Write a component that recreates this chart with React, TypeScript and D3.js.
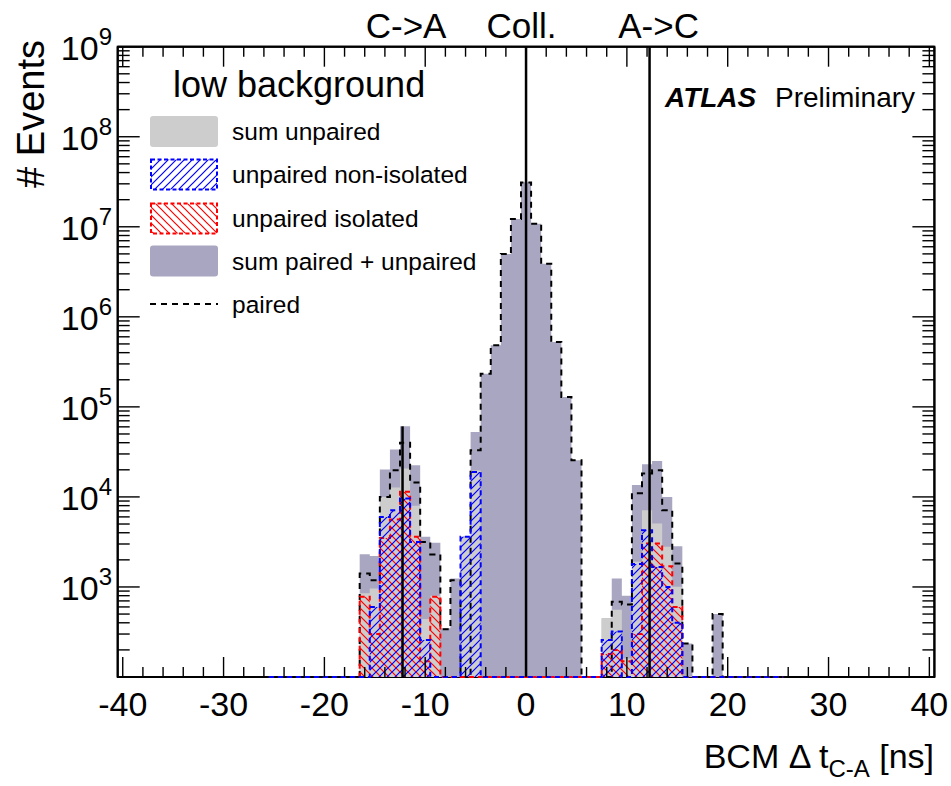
import React from "react";
import * as d3 from "d3";

// ---- data (bins of 1 ns, centred on integer ns) ----
const binCenters = [-16, -15, -14, -13, -12, -11, -10, -9, -8, -7, -6, -5, -4, -3, -2, -1, 0, 1, 2, 3, 4, 5, 6, 7, 8, 9, 10, 11, 12, 13, 14, 15, 16, 17, 18, 19];
const sumPairedUnpaired = [2310, 2200, 20100, 33600, 60800, 22500, 3600, 3100, 347, 1245, 3600, 52600, 234000, 482000, 5.0e6, 1.22e7, 3.12e7, 1.08e7, 3.88e6, 5.25e5, 1.29e5, 2.55e4, 0, 0, 448, 1245, 800, 13600, 23100, 25000, 10000, 2840, 236, 0, 0, 500];
const sumUnpaired = [850, 960, 10000, 12700, 20700, 8000, 440, 800, 0, 0, 3600, 19600, 0, 0, 0, 0, 0, 0, 0, 0, 0, 0, 0, 0, 448, 560, 160, 1900, 7100, 5070, 2790, 1005, 0, 0, 0, 0];
const paired = [1410, 1190, 10000, 19800, 40000, 14500, 3160, 2300, 340, 1190, 0, 33000, 234000, 482000, 5.0e6, 1.22e7, 3.1e7, 1.08e7, 3.88e6, 5.25e5, 1.29e5, 2.55e4, 0, 0, 0, 685, 640, 11000, 18200, 19800, 7100, 1820, 236, 0, 0, 500];
const unpairedNonIsolated = [0, 600, 6000, 7100, 9600, 3160, 257, 0, 0, 0, 3600, 18900, 0, 0, 0, 0, 0, 0, 0, 0, 0, 0, 0, 0, 258, 320, 0, 1800, 4270, 1670, 1000, 400, 0, 0, 0, 0];
const unpairedIsolated = [780, 300, 3500, 5600, 11400, 3600, 150, 780, 0, 0, 0, 0, 0, 0, 0, 0, 0, 0, 0, 0, 0, 0, 0, 0, 180, 200, 150, 300, 3030, 3030, 1700, 600, 0, 0, 0, 0];

const pairedRange = [-40.5, 40.5];
const unpairedRange = [-25.5, 25.5];

const xTickValues = [-40, -30, -20, -10, 0, 10, 20, 30, 40];
const xMinorStep = 2;
const yDecades = [2, 3, 4, 5, 6, 7, 8, 9];
const yLabelDecades = [3, 4, 5, 6, 7, 8, 9];

const markerNames = ["C->A", "Coll.", "A->C"];
const markerTimes = [-12.25, 0, 12.25];
const markerTops = [6.08e4, 1e9, 1e9];
const markerLabelX = [-11.9, -0.45, 13.15];

const legendLabels = ["sum unpaired", "unpaired non-isolated", "unpaired isolated", "sum paired + unpaired", "paired"];

const COL_PURPLE = "#a9a6c1";
const COL_GRAY = "#cdcdcd";
const COL_BLUE = "#0000ff";
const COL_RED = "#ff0000";
const FONT = "'Liberation Sans', Arial, Helvetica, sans-serif";

export default function App() {
  const W = 951, H = 786;
  const x0 = 117.7, x1 = 934.4, yTop = 46.7, yB = 677;
  const xScale = d3.scaleLinear().domain([-40.5, 40.5]).range([x0, x1]);
  const yScale = d3.scaleLog().domain([1e2, 1e9]).range([yB, yTop]);
  const yv = (v: number) => (v >= 1e2 ? yScale(v) : yB);

  const valueAt = (vals: number[], c: number) => {
    const i = binCenters.indexOf(c);
    return i >= 0 ? vals[i] : 0;
  };

  const stepPath = (vals: number[], range: number[], closed: boolean) => {
    const lo = range[0], hi = range[1];
    const p = d3.path();
    p.moveTo(xScale(lo), yB);
    for (let e = lo; e < hi - 0.01; e += 1) {
      const c = e + 0.5;
      const y = yv(valueAt(vals, c));
      p.lineTo(xScale(e), y);
      p.lineTo(xScale(e + 1), y);
    }
    p.lineTo(xScale(hi), yB);
    if (closed) p.closePath();
    return p.toString();
  };

  const fillRange = [binCenters[0] - 0.5, binCenters[binCenters.length - 1] + 0.5];

  // ticks
  const xMinor: number[] = [];
  for (let v = -40; v <= 40; v += xMinorStep) if (v % 10 !== 0) xMinor.push(v);
  const yMinor: number[] = [];
  yDecades.slice(0, -1).forEach((k) => {
    for (let m = 2; m <= 9; m++) yMinor.push(m * Math.pow(10, k));
  });

  const tickStroke = { stroke: "#000", strokeWidth: 1.4 };

  const legendRowY = [131.5, 174.5, 218.5, 261, 304];

  return (
    <svg width={W} height={H} style={{ position: "absolute", left: 0, top: 0, background: "#fff" }} fontFamily={FONT}>
      <defs>
        <pattern id="hatchBlue" patternUnits="userSpaceOnUse" width="8" height="8">
          <path d="M-1,1 l2,-2 M0,8 l8,-8 M7,9 l2,-2" stroke={COL_BLUE} strokeWidth="1.2" />
        </pattern>
        <pattern id="hatchRed" patternUnits="userSpaceOnUse" width="8" height="8">
          <path d="M-1,7 l2,2 M0,0 l8,8 M7,-1 l2,2" stroke={COL_RED} strokeWidth="1.2" />
        </pattern>
        <clipPath id="frameClip">
          <rect x={x0} y={yTop} width={x1 - x0} height={yB - yTop + 3} />
        </clipPath>
      </defs>
      <rect x={0} y={0} width={W} height={H} fill="#fff" />

      {/* frame (drawn first so histogram outlines at zero lie on it) */}
      <rect x={x0} y={yTop} width={x1 - x0} height={yB - yTop} fill="none" stroke="#000" strokeWidth={2} />

      <g clipPath="url(#frameClip)">
        {/* sum paired + unpaired */}
        <path d={stepPath(sumPairedUnpaired, fillRange, true)} fill={COL_PURPLE} stroke="none" />
        {/* sum unpaired */}
        <path d={stepPath(sumUnpaired, fillRange, true)} fill={COL_GRAY} stroke="none" />
        {/* paired */}
        <path d={stepPath(paired, pairedRange, false)} fill="none" stroke="#000" strokeWidth={2} strokeDasharray="6 5" />
        {/* unpaired isolated */}
        <path d={stepPath(unpairedIsolated, unpairedRange, true)} fill="url(#hatchRed)" stroke="none" />
        <path d={stepPath(unpairedIsolated, unpairedRange, false)} fill="none" stroke={COL_RED} strokeWidth={2} strokeDasharray="5 4" />
        {/* unpaired non-isolated */}
        <path d={stepPath(unpairedNonIsolated, unpairedRange, true)} fill="url(#hatchBlue)" stroke="none" />
        <path d={stepPath(unpairedNonIsolated, unpairedRange, false)} fill="none" stroke={COL_BLUE} strokeWidth={2} strokeDasharray="5 4" />

        {/* marker lines */}
        {markerTimes.map((t, i) => (
          <line key={i} x1={xScale(t)} x2={xScale(t)} y1={yB} y2={yScale(markerTops[i])} stroke="#000" strokeWidth={2.5} />
        ))}
      </g>

      {/* left/right/top frame edges redrawn on top */}
      <line x1={x0} x2={x0} y1={yTop} y2={yB} stroke="#000" strokeWidth={2} />
      <line x1={x1} x2={x1} y1={yTop} y2={yB} stroke="#000" strokeWidth={2} />
      <line x1={x0} x2={x1} y1={yTop} y2={yTop} stroke="#000" strokeWidth={2} />

      {/* marker labels */}
      {markerNames.map((n, i) => (
        <text key={n} x={xScale(markerLabelX[i])} y={38} fontSize={35} textAnchor="middle">{n}</text>
      ))}

      {/* x ticks */}
      {xTickValues.map((v) => (
        <g key={"xt" + v}>
          <line x1={xScale(v)} x2={xScale(v)} y1={yB} y2={yB - 20} {...tickStroke} />
          <line x1={xScale(v)} x2={xScale(v)} y1={yTop} y2={yTop + 20} {...tickStroke} />
          <text x={xScale(v)} y={716} fontSize={34} textAnchor="middle">{v}</text>
        </g>
      ))}
      {xMinor.map((v) => (
        <g key={"xm" + v}>
          <line x1={xScale(v)} x2={xScale(v)} y1={yB} y2={yB - 10} {...tickStroke} />
          <line x1={xScale(v)} x2={xScale(v)} y1={yTop} y2={yTop + 10} {...tickStroke} />
        </g>
      ))}

      {/* y ticks */}
      {yDecades.map((k) => {
        const y = yScale(Math.pow(10, k));
        return (
          <g key={"yt" + k}>
            <line x1={x0} x2={x0 + 22} y1={y} y2={y} {...tickStroke} />
            <line x1={x1} x2={x1 - 22} y1={y} y2={y} {...tickStroke} />
          </g>
        );
      })}
      {yMinor.map((v) => {
        const y = yScale(v);
        return (
          <g key={"ym" + v}>
            <line x1={x0} x2={x0 + 12} y1={y} y2={y} {...tickStroke} />
            <line x1={x1} x2={x1 - 12} y1={y} y2={y} {...tickStroke} />
          </g>
        );
      })}
      {yLabelDecades.map((k) => (
        <text key={"yl" + k} x={112} y={yScale(Math.pow(10, k)) + 13} fontSize={34} textAnchor="end">
          10<tspan fontSize={24} dy={-15}>{k}</tspan>
        </text>
      ))}

      {/* axis titles */}
      <text transform={`translate(44,40) rotate(-90)`} fontSize={38} textAnchor="end"># Events</text>
      <text x={934} y={768} fontSize={34} textAnchor="end">
        BCM Δ t<tspan fontSize={24} dy={9}>C-A</tspan><tspan dy={-9}> [ns]</tspan>
      </text>

      {/* ATLAS label */}
      <text x={665} y={106.7} fontSize={28} fontWeight="bold" fontStyle="italic">ATLAS</text>
      <text x={775} y={106.7} fontSize={28}>Preliminary</text>

      {/* legend */}
      <text x={173} y={97} fontSize={36}>low background</text>
      <rect x={150} y={legendRowY[0] - 15.5} width={68} height={31} rx={3} fill={COL_GRAY} />
      <rect x={151} y={legendRowY[1] - 15} width={66} height={30} fill="url(#hatchBlue)" stroke={COL_BLUE} strokeWidth={2} strokeDasharray="4 2.5" />
      <rect x={151} y={legendRowY[2] - 15} width={66} height={30} fill="url(#hatchRed)" stroke={COL_RED} strokeWidth={2} strokeDasharray="4 2.5" />
      <rect x={150} y={legendRowY[3] - 15.5} width={68} height={31} rx={3} fill={COL_PURPLE} />
      <line x1={150} x2={218} y1={legendRowY[4]} y2={legendRowY[4]} stroke="#000" strokeWidth={2} strokeDasharray="6 5" />
      {legendLabels.map((l, i) => (
        <text key={l} x={232} y={legendRowY[i] + 8.5} fontSize={24.5}>{l}</text>
      ))}
    </svg>
  );
}
